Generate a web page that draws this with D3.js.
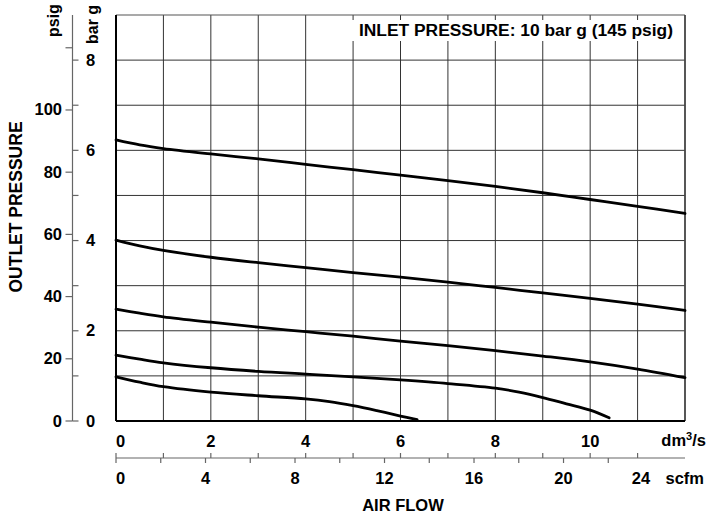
<!DOCTYPE html>
<html>
<head>
<meta charset="utf-8">
<script src="https://cdn.jsdelivr.net/npm/d3@7/dist/d3.min.js"></script>
<style>
  html, body { margin: 0; padding: 0; background: #fff; }
  svg { display: block; font-family: "Liberation Sans", Arial, sans-serif; font-weight: bold; }
</style>
</head>
<body>
<div id="chart"></div>
<script>
// axis ticks
const flowTicks = [0, 2, 4, 6, 8, 10];          // dm3/s labels
const flowGrid = [1, 2, 3, 4, 5, 6, 7, 8, 9, 10, 11];
const scfmLabels = [0, 4, 8, 12, 16, 20, 24];
const scfmMinor = [0, 2, 4, 6, 8, 10, 12, 14, 16, 18, 20, 22];
const psigTicks = [0, 20, 40, 60, 80, 100, 120];
const barTicks = [0, 1, 2, 3, 4, 5, 6, 7, 8];

// curves: air flow (dm3/s) vs outlet pressure (bar g)
const flowA = [0, 0.5, 1, 2, 3, 4, 5, 6, 7, 8, 9, 10, 11, 12];
const outletA = [6.23, 6.12, 6.04, 5.92, 5.81, 5.69, 5.57, 5.45, 5.33, 5.2, 5.06, 4.91, 4.76, 4.6];
const flowB = [0, 0.5, 1, 2, 3, 4, 5, 6, 7, 8, 9, 10, 11, 12];
const outletB = [4.01, 3.88, 3.78, 3.63, 3.51, 3.4, 3.29, 3.19, 3.08, 2.96, 2.84, 2.72, 2.59, 2.45];
const flowC = [0, 0.5, 1, 2, 3, 4, 5, 6, 7, 8, 9, 10, 11, 12];
const outletC = [2.48, 2.39, 2.31, 2.19, 2.08, 1.98, 1.88, 1.77, 1.67, 1.56, 1.44, 1.31, 1.15, 0.96];
const flowD = [0, 0.5, 1, 2, 3, 4, 5, 6, 7, 8, 8.5, 9, 9.5, 10, 10.4];
const outletD = [1.46, 1.37, 1.29, 1.18, 1.1, 1.04, 0.98, 0.91, 0.83, 0.73, 0.64, 0.52, 0.38, 0.24, 0.07];
const flowE = [0, 0.5, 1, 2, 3, 4, 4.5, 5, 5.5, 6, 6.35];
const outletE = [0.98, 0.86, 0.76, 0.64, 0.56, 0.49, 0.43, 0.34, 0.23, 0.11, 0.03];

const title = 'INLET PRESSURE: 10 bar g (145 psig)';

const width = 706;
const height = 518;
const plotL = 116, plotR = 685, plotT = 15, plotB = 421;

const x = d3.scaleLinear().domain([0, 12]).range([plotL, plotR]);
const xScfm = d3.scaleLinear().domain([0, 12 / 0.4719]).range([plotL, plotR]);
const yBar = d3.scaleLinear().domain([0, 9]).range([plotB, plotT]);
const yPsig = d3.scaleLinear().domain([0, 9 * 14.5038]).range([plotB, plotT]);

const svg = d3.select('#chart')
  .append('svg')
  .attr('width', width)
  .attr('height', height);

// grid
const grid = svg.append('g').attr('stroke', '#333').attr('stroke-width', 1);
grid.selectAll('.vg')
  .data(flowGrid)
  .enter()
  .append('line')
  .attr('x1', (d) => x(d)).attr('x2', (d) => x(d))
  .attr('y1', plotT).attr('y2', plotB);
grid.selectAll('.hg')
  .data(barTicks.slice(1))
  .enter()
  .append('line')
  .attr('x1', plotL).attr('x2', plotR)
  .attr('y1', (d) => yBar(d)).attr('y2', (d) => yBar(d));

// title box over the grid
const titleBox = svg.append('rect').attr('fill', '#fff');
const titleText = svg.append('text')
  .attr('x', 673)
  .attr('y', 36)
  .attr('text-anchor', 'end')
  .attr('font-size', 17.4)
  .text(title);
const bb = titleText.node().getBBox();
titleBox
  .attr('x', bb.x - 8)
  .attr('y', 20)
  .attr('width', plotR - 2 - (bb.x - 8))
  .attr('height', 21);

// frame
svg.append('line').attr('x1', plotL).attr('x2', plotR).attr('y1', plotT).attr('y2', plotT)
  .attr('stroke', '#555').attr('stroke-width', 1.2);
svg.append('line').attr('x1', plotR).attr('x2', plotR).attr('y1', plotT).attr('y2', plotB)
  .attr('stroke', '#444').attr('stroke-width', 1.8);
svg.append('line').attr('x1', plotL).attr('x2', plotR).attr('y1', plotB).attr('y2', plotB)
  .attr('stroke', '#000').attr('stroke-width', 2);
svg.append('line').attr('x1', plotL).attr('x2', plotL).attr('y1', plotT).attr('y2', plotB)
  .attr('stroke', '#000').attr('stroke-width', 2);

// curves
const line = d3.line()
  .x((d) => x(d[0]))
  .y((d) => yBar(d[1]))
  .curve(d3.curveCatmullRom.alpha(0.5));

const curves = [
  d3.zip(flowA, outletA),
  d3.zip(flowB, outletB),
  d3.zip(flowC, outletC),
  d3.zip(flowD, outletD),
  d3.zip(flowE, outletE),
];
svg.append('g')
  .selectAll('path')
  .data(curves)
  .enter()
  .append('path')
  .attr('d', line)
  .attr('fill', 'none')
  .attr('stroke', '#000')
  .attr('stroke-width', 2.8)
  .attr('stroke-linecap', 'round');

// left pressure axis (psig on the left, bar g on the right)
const axisX = 72.5;
const ax = svg.append('g').attr('stroke', '#666').attr('stroke-width', 1.2);
ax.append('line').attr('x1', axisX).attr('x2', axisX).attr('y1', plotT).attr('y2', plotB);
ax.selectAll('.pt')
  .data(psigTicks)
  .enter()
  .append('line')
  .attr('x1', axisX - 7).attr('x2', axisX)
  .attr('y1', (d) => yPsig(d)).attr('y2', (d) => yPsig(d));
ax.selectAll('.bt')
  .data(barTicks)
  .enter()
  .append('line')
  .attr('x1', axisX).attr('x2', axisX + 6)
  .attr('y1', (d) => yBar(d)).attr('y2', (d) => yBar(d));

svg.selectAll('.pl')
  .data(psigTicks.filter((d) => d < 120))
  .enter()
  .append('text')
  .attr('x', 62)
  .attr('y', (d) => yPsig(d) + 5.5)
  .attr('text-anchor', 'end')
  .attr('font-size', 16.5)
  .text((d) => d);
svg.selectAll('.bl')
  .data(barTicks.filter((d) => d % 2 === 0))
  .enter()
  .append('text')
  .attr('x', 86)
  .attr('y', (d) => yBar(d) + 5.5)
  .attr('font-size', 16.5)
  .text((d) => d);

svg.append('text')
  .attr('transform', 'translate(59,37) rotate(-90)')
  .attr('font-size', 16)
  .text('psig');
svg.append('text')
  .attr('transform', 'translate(98,44) rotate(-90)')
  .attr('font-size', 16)
  .text('bar g');
svg.append('text')
  .attr('transform', 'translate(22,207) rotate(-90)')
  .attr('text-anchor', 'middle')
  .attr('font-size', 17.5)
  .text('OUTLET PRESSURE');

// bottom axes
svg.selectAll('.fl')
  .data(flowTicks)
  .enter()
  .append('text')
  .attr('x', (d) => x(d))
  .attr('y', 447)
  .attr('text-anchor', (d) => (d === 0 ? 'start' : 'middle'))
  .attr('font-size', 16.5)
  .text((d) => d);
svg.append('text')
  .attr('x', 706)
  .attr('y', 446)
  .attr('text-anchor', 'end')
  .attr('font-size', 16.5)
  .html('dm<tspan font-size="11" dy="-6">3</tspan><tspan dy="6">/s</tspan>');

const axisY = 458;
const bx = svg.append('g').attr('stroke', '#666').attr('stroke-width', 1.2);
bx.append('line').attr('x1', plotL).attr('x2', plotR).attr('y1', axisY).attr('y2', axisY);
bx.selectAll('.up')
  .data([0].concat(flowGrid))
  .enter()
  .append('line')
  .attr('x1', (d) => x(d)).attr('x2', (d) => x(d))
  .attr('y1', axisY - 5).attr('y2', axisY);
bx.selectAll('.dn')
  .data(scfmMinor)
  .enter()
  .append('line')
  .attr('x1', (d) => xScfm(d)).attr('x2', (d) => xScfm(d))
  .attr('y1', axisY).attr('y2', axisY + 5);

svg.selectAll('.sl')
  .data(scfmLabels)
  .enter()
  .append('text')
  .attr('x', (d) => (d === 24 ? xScfm(d) - 12 : xScfm(d)))
  .attr('y', 484)
  .attr('text-anchor', (d) => (d === 0 ? 'start' : 'middle'))
  .attr('font-size', 16.5)
  .text((d) => d);
svg.append('text')
  .attr('x', 704)
  .attr('y', 484)
  .attr('text-anchor', 'end')
  .attr('font-size', 16.5)
  .text('scfm');
svg.append('text')
  .attr('x', 403)
  .attr('y', 511)
  .attr('text-anchor', 'middle')
  .attr('font-size', 16.5)
  .text('AIR FLOW');
</script>
</body>
</html>
